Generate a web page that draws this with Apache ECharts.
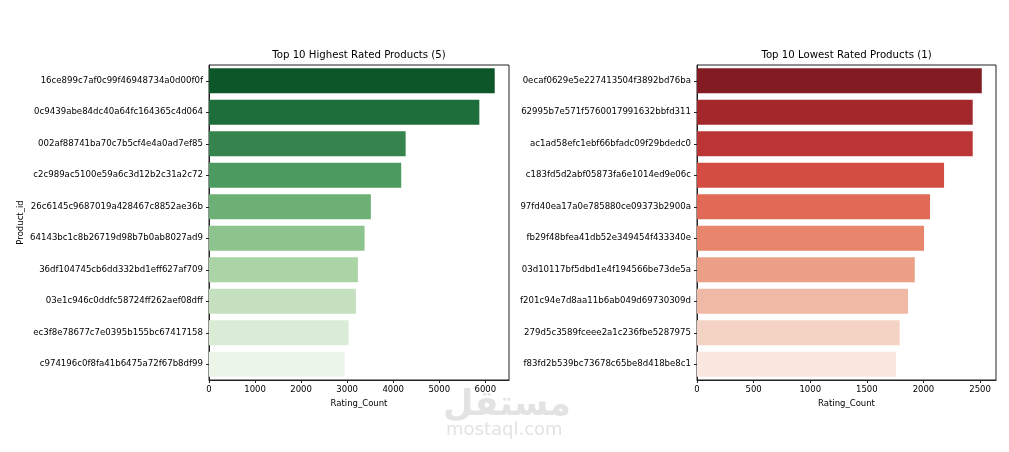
<!DOCTYPE html>
<html>
<head>
<meta charset="utf-8">
<script src="https://cdn.jsdelivr.net/npm/echarts@6/dist/echarts.min.js"></script>
<style>
  html, body { margin: 0; padding: 0; background: #fff; }
  #chart { width: 1009px; height: 452px; }
</style>
</head>
<body>
<div id="chart"></div>
<script>
// ---- data ----
const highTitle = 'Top 10 Highest Rated Products (5)';
const lowTitle = 'Top 10 Lowest Rated Products (1)';
const highProducts = [
  '16ce899c7af0c99f46948734a0d00f0f',
  '0c9439abe84dc40a64fc164365c4d064',
  '002af88741ba70c7b5cf4e4a0ad7ef85',
  'c2c989ac5100e59a6c3d12b2c31a2c72',
  '26c6145c9687019a428467c8852ae36b',
  '64143bc1c8b26719d98b7b0ab8027ad9',
  '36df104745cb6dd332bd1eff627af709',
  '03e1c946c0ddfc58724ff262aef08dff',
  'ec3f8e78677c7e0395b155bc67417158',
  'c974196c0f8fa41b6475a72f67b8df99'
];
const highCounts = [6204, 5870, 4270, 4174, 3515, 3378, 3233, 3189, 3030, 2943];
const lowProducts = [
  '0ecaf0629e5e227413504f3892bd76ba',
  '62995b7e571f5760017991632bbfd311',
  'ac1ad58efc1ebf66bfadc09f29bdedc0',
  'c183fd5d2abf05873fa6e1014ed9e06c',
  '97fd40ea17a0e785880ce09373b2900a',
  'fb29f48bfea41db52e349454f433340e',
  '03d10117bf5dbd1e4f194566be73de5a',
  'f201c94e7d8aa11b6ab049d69730309d',
  '279d5c3589fceee2a1c236fbe5287975',
  'f83fd2b539bc73678c65be8d418be8c1'
];
const lowCounts = [2515, 2435, 2435, 2182, 2058, 2005, 1923, 1864, 1790, 1758];
const highTicks = [0, 1000, 2000, 3000, 4000, 5000, 6000];
const lowTicks = [0, 500, 1000, 1500, 2000, 2500];
const xName = 'Rating_Count';
const yName = 'Product_id';

// ---- styles ----
const greens = ['#0c562a', '#1d6e3b', '#35844e', '#4b9b61', '#6cb075', '#8dc38c', '#aad3a6', '#c4e0bf', '#daecd6', '#ebf5e8'];
const reds = ['#831c22', '#a2282c', '#bb3536', '#d44d43', '#e06a56', '#e7856d', '#eb9f87', '#f0b9a5', '#f5d3c4', '#fae7df'];
const FONT = 'DejaVu Sans';
const lineCol = '#222';

function xAxisCfg(gridIndex, ticks, values) {
  return {
    type: 'value', gridIndex: gridIndex,
    min: 0, max: Math.max(...values) * 1.05,
    splitLine: { show: false },
    axisLine: { show: true, lineStyle: { color: lineCol, width: 1 } },
    axisTick: { show: true, length: 3, lineStyle: { color: lineCol }, customValues: ticks },
    axisLabel: { customValues: ticks, formatter: v => String(v),
      fontFamily: FONT, fontSize: 8.5, color: '#000', margin: 5 },
    name: xName, nameLocation: 'middle', nameGap: 17,
    nameTextStyle: { fontFamily: FONT, fontSize: 8.5, color: '#000' }
  };
}
function yAxisCfg(gridIndex, cats, withName) {
  const cfg = {
    type: 'category', gridIndex: gridIndex, data: cats, inverse: true,
    axisLine: { show: true, lineStyle: { color: lineCol, width: 1 } },
    axisTick: { show: true, length: 3, alignWithLabel: true, lineStyle: { color: lineCol } },
    axisLabel: { fontFamily: FONT, fontSize: 8.6, color: '#000', margin: 6 },
    splitLine: { show: false }
  };
  if (withName) {
    cfg.name = yName; cfg.nameLocation = 'middle'; cfg.nameGap = 184;
    cfg.nameTextStyle = { fontFamily: FONT, fontSize: 8.5, color: '#000' };
  }
  return cfg;
}

const chart = echarts.init(document.getElementById('chart'), null, { renderer: 'canvas' });
chart.setOption({
  backgroundColor: '#fff',
  animation: false,
  title: [
    { text: highTitle, left: 359, top: 50, textAlign: 'center', padding: 0,
      textStyle: { fontFamily: FONT, fontSize: 10.2, fontWeight: 'normal', color: '#000' } },
    { text: lowTitle, left: 846.5, top: 50, textAlign: 'center', padding: 0,
      textStyle: { fontFamily: FONT, fontSize: 10.2, fontWeight: 'normal', color: '#000' } }
  ],
  grid: [
    { left: 209, top: 65, width: 300, height: 315, show: true, borderColor: lineCol, borderWidth: 1, containLabel: false },
    { left: 697, top: 65, width: 299, height: 315, show: true, borderColor: lineCol, borderWidth: 1, containLabel: false }
  ],
  xAxis: [xAxisCfg(0, highTicks, highCounts), xAxisCfg(1, lowTicks, lowCounts)],
  yAxis: [yAxisCfg(0, highProducts, true), yAxisCfg(1, lowProducts, false)],
  series: [
    { type: 'bar', xAxisIndex: 0, yAxisIndex: 0, barCategoryGap: '20%',
      data: highCounts.map((v, i) => ({ value: v, itemStyle: { color: greens[i] } })) },
    { type: 'bar', xAxisIndex: 1, yAxisIndex: 1, barCategoryGap: '20%',
      data: lowCounts.map((v, i) => ({ value: v, itemStyle: { color: reds[i] } })) }
  ],
  graphic: [
    { type: 'text', left: 443, top: 388, silent: true,
      style: { text: 'مستقل', font: 'bold 35px "DejaVu Sans"', fill: '#e3e3e3' } },
    { type: 'text', left: 446, top: 421, silent: true,
      style: { text: 'mostaql.com', font: '18px "DejaVu Sans"', fill: '#e3e3e3' } }
  ]
});
</script>
</body>
</html>
